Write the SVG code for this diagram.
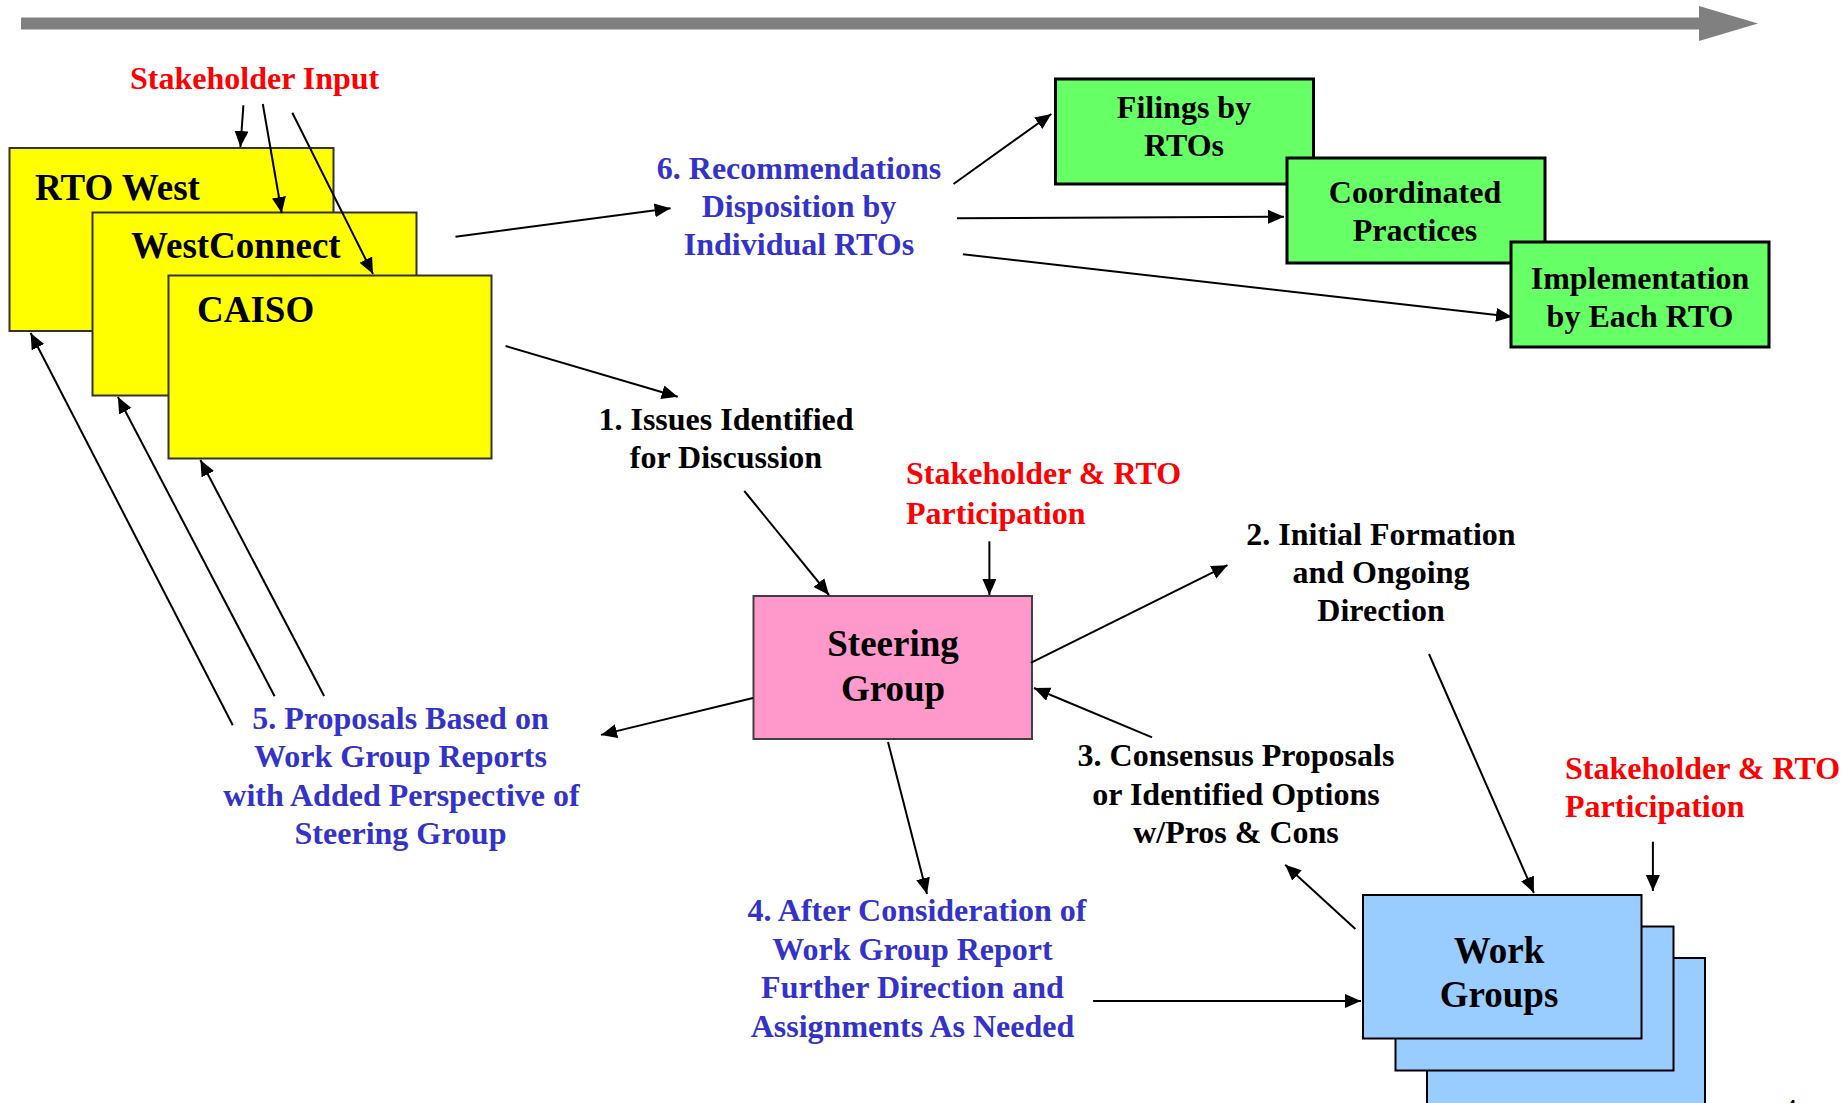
<svg xmlns="http://www.w3.org/2000/svg" width="1848" height="1103" viewBox="0 0 1848 1103">
<defs>
<marker id="ah" markerUnits="userSpaceOnUse" markerWidth="17" markerHeight="15" refX="16" refY="7" orient="auto">
<path d="M0,0 L16,7 L0,14 z" fill="#000"/>
</marker>
<style>
text{font-family:"Liberation Serif","Times New Roman",serif;font-weight:bold;}
.t32{font-size:32px;}
.t37{font-size:37px;}
.blk{fill:#000;}
.red{fill:#ff0000;}
.blu{fill:#3333cc;}
.mid{text-anchor:middle;}
.yel{fill:#ffff00;stroke:#333;stroke-width:2;}
.grn{fill:#66ff66;stroke:#000;stroke-width:3;}
.pnk{fill:#ff99cc;stroke:#404040;stroke-width:2;}
.lbl{fill:#99ccff;stroke:#000;stroke-width:2;}
.c line{stroke:#000;stroke-width:2;marker-end:url(#ah);}
</style>
</defs>
<rect width="1848" height="1103" fill="#fff"/>

<g id="timeline">
<rect x="21" y="17.5" width="1680" height="12" fill="#808080"/>
<polygon points="1699,6 1758,23.5 1699,41" fill="#808080"/>
</g>

<g id="stakeholder-input"><text class="t32 red" x="130" y="89">Stakeholder Input</text></g>

<g id="rto-west"><rect class="yel" x="9.5" y="148" width="324" height="183"/><text class="t37 blk" x="35" y="200">RTO West</text></g>
<g id="westconnect"><rect class="yel" x="92.5" y="212.5" width="324" height="183"/><text class="t37 blk" x="131" y="258">WestConnect</text></g>
<g id="caiso"><rect class="yel" x="168.5" y="275.5" width="323" height="183"/><text class="t37 blk" x="197" y="322">CAISO</text></g>

<g id="recommendations"><text class="t32 blu mid"><tspan x="799" y="179">6. Recommendations</tspan><tspan x="799" y="217">Disposition by</tspan><tspan x="799" y="255">Individual RTOs</tspan></text></g>

<g id="filings"><rect class="grn" x="1055.5" y="79" width="258" height="105"/><text class="t32 blk mid"><tspan x="1184" y="118">Filings by</tspan><tspan x="1184" y="156">RTOs</tspan></text></g>
<g id="coordinated"><rect class="grn" x="1287" y="158" width="258" height="105"/><text class="t32 blk mid"><tspan x="1415" y="203">Coordinated</tspan><tspan x="1415" y="241">Practices</tspan></text></g>
<g id="implementation"><rect class="grn" x="1511" y="242" width="258" height="105"/><text class="t32 blk mid"><tspan x="1640" y="289">Implementation</tspan><tspan x="1640" y="327">by Each RTO</tspan></text></g>

<g id="issues"><text class="t32 blk mid"><tspan x="726" y="430">1. Issues Identified</tspan><tspan x="726" y="468">for Discussion</tspan></text></g>

<g id="sg-participation"><text class="t32 red"><tspan x="906" y="484">Stakeholder &amp; RTO</tspan><tspan x="906" y="524">Participation</tspan></text></g>

<g id="steering-group"><rect class="pnk" x="753.5" y="596" width="278.5" height="143"/><text class="t37 blk mid"><tspan x="893" y="656">Steering</tspan><tspan x="893" y="701">Group</tspan></text></g>

<g id="initial-formation"><text class="t32 blk mid"><tspan x="1381" y="545">2. Initial Formation</tspan><tspan x="1381" y="583">and Ongoing</tspan><tspan x="1381" y="621">Direction</tspan></text></g>

<g id="consensus"><text class="t32 blk mid"><tspan x="1236" y="766">3. Consensus Proposals</tspan><tspan x="1236" y="805">or Identified Options</tspan><tspan x="1236" y="843">w/Pros &amp; Cons</tspan></text></g>

<g id="wg-participation"><text class="t32 red"><tspan x="1565" y="779">Stakeholder &amp; RTO</tspan><tspan x="1565" y="817">Participation</tspan></text></g>

<g id="proposals"><text class="t32 blu mid"><tspan x="400.5" y="729">5. Proposals Based on</tspan><tspan x="400.5" y="767">Work Group Reports</tspan><tspan x="401.5" y="806">with Added Perspective of</tspan><tspan x="400.5" y="844">Steering Group</tspan></text></g>

<g id="after-consideration"><text class="t32 blu mid"><tspan x="917" y="921">4. After Consideration of</tspan><tspan x="912.5" y="960">Work Group Report</tspan><tspan x="912.5" y="998">Further Direction and</tspan><tspan x="912.5" y="1037">Assignments As Needed</tspan></text></g>

<g id="work-groups">
<rect class="lbl" x="1427" y="958" width="278" height="160"/>
<rect class="lbl" x="1395.5" y="926.5" width="278" height="144"/>
<rect class="lbl" x="1363" y="895" width="278.5" height="143.5"/>
<text class="t37 blk mid"><tspan x="1499" y="963">Work</tspan><tspan x="1499" y="1007">Groups</tspan></text>
</g>

<g id="page-number"><text x="1786" y="1114" style="font-size:20px;font-family:'Liberation Serif',serif;font-weight:bold;" fill="#000">4</text></g>

<g id="connectors" class="c">
<line x1="243.4" y1="105.3" x2="240.4" y2="147"/>
<line x1="262.8" y1="104" x2="281.7" y2="213"/>
<line x1="292.3" y1="112.7" x2="373" y2="274"/>
<line x1="455.5" y1="236.7" x2="670.6" y2="208.3"/>
<line x1="505.6" y1="346" x2="677.7" y2="396.7"/>
<line x1="953.5" y1="184" x2="1051.3" y2="114"/>
<line x1="957" y1="218.3" x2="1284" y2="216.7"/>
<line x1="962.9" y1="254.3" x2="1512" y2="316.7"/>
<line x1="744.3" y1="491" x2="829" y2="595"/>
<line x1="989.4" y1="541.3" x2="989.4" y2="595"/>
<line x1="1030.7" y1="662.8" x2="1227.5" y2="565.2"/>
<line x1="1429" y1="654" x2="1533.9" y2="893"/>
<line x1="1152" y1="737.4" x2="1034" y2="688"/>
<line x1="1355.4" y1="929" x2="1285.2" y2="864.7"/>
<line x1="1652.9" y1="841.7" x2="1652.9" y2="891"/>
<line x1="753" y1="698" x2="601" y2="734.9"/>
<line x1="232.8" y1="725.2" x2="30.6" y2="333"/>
<line x1="274.6" y1="696.3" x2="117.9" y2="397"/>
<line x1="324.1" y1="696" x2="200.4" y2="460"/>
<line x1="888" y1="742" x2="927" y2="894"/>
<line x1="1093.1" y1="1001" x2="1361" y2="1001"/>
</g>
</svg>
